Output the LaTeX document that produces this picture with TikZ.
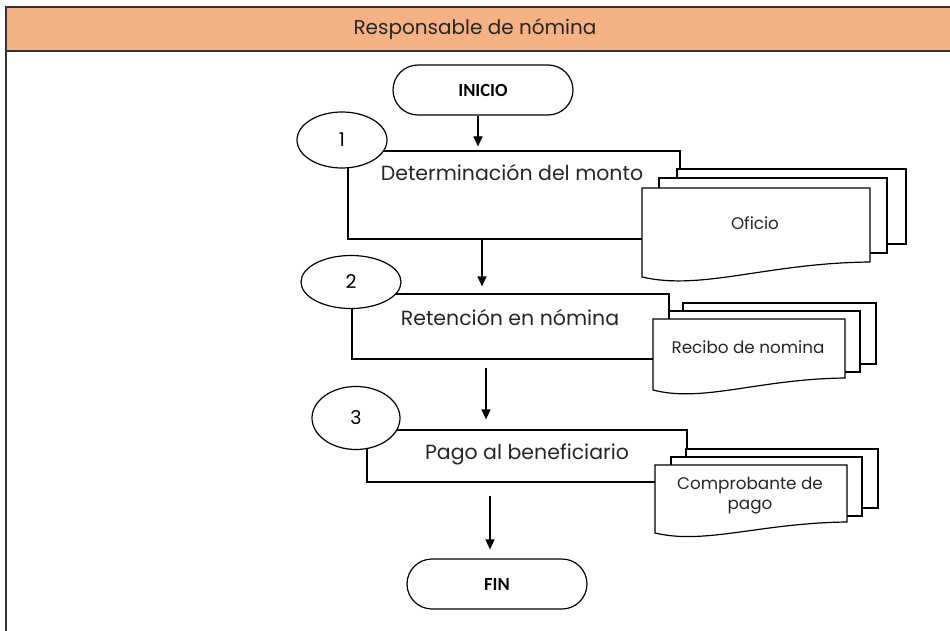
\documentclass[tikz,border=0pt]{standalone}
\usepackage{fontspec}
\setmainfont{Poppins}
\newfontfamily\termfont{Carlito}
\usepackage{xcolor}
\usepackage{tikz}
\usetikzlibrary{arrows.meta,positioning,calc,shapes.geometric}

\definecolor{headorange}{HTML}{F4B183}

\begin{document}
\begin{tikzpicture}[
    x=1pt, y=-1pt,
    term/.style={draw, line width=1.2pt, rounded corners=25pt, minimum width=180pt, minimum height=50pt, inner sep=0pt, font=\termfont\bfseries\fontsize{18.5}{20}\selectfont},
    proc/.style={draw, line width=1.2pt, inner sep=0pt},
    num/.style={draw, ellipse, line width=1.2pt, fill=white, inner sep=0pt, font=\fontsize{19}{21}\selectfont},
    steptext/.style={font=\fontsize{20.5}{22}\selectfont, text=black!85},
    doc/.style={draw, line width=1.2pt, fill=white},
    doctext/.style={font=\fontsize{16.8}{20}\selectfont, align=center, text=black!85},
    flow/.style={draw, line width=1.2pt, -{Triangle[length=10pt,width=9pt]}},
    >=Stealth
]
\useasboundingbox (0,0) rectangle (950,631);

% lane
\fill[headorange] (6,7) rectangle (952,51);
\draw[line width=2pt, black!80] (952,7) -- (6,7) -- (6,633);
\draw[line width=2pt, black!80] (6,51) -- (952,51);
\node[steptext, font=\fontsize{20}{22}\selectfont] (lane) at (475,29) {Responsable de nómina};

% steps
\node[term] (inicio) at (483,90) {INICIO};
\node[proc, minimum width=332pt, minimum height=88pt] (box1) at (514,195) {};
\node[proc, minimum width=317pt, minimum height=65pt] (box2) at (510.5,326.5) {};
\node[proc, minimum width=320pt, minimum height=52pt] (box3) at (527,456) {};
\node[term] (fin) at (497,584) {FIN};

\node[steptext] (t1) at (512,173) {Determinación del monto};
\node[steptext] (t2) at (510,318) {Retención en nómina};
\node[steptext] (t3) at (527,454) {Pago al beneficiario};

\node[num, minimum width=90pt, minimum height=56pt] (n1) at (342,140) {1};
\node[num, minimum width=100pt, minimum height=53pt] (n2) at (351,282) {2};
\node[num, minimum width=88pt, minimum height=63pt] (n3) at (356,418) {3};

% documents
\begin{scope}[shift={(642,188)}]
\draw[doc] (35,-19) rectangle (264,56);
\draw[doc] (17,-10) rectangle (245,65);
\draw[doc] (0,0) -- (228,0) -- (228,74) .. controls (125,75) and (60,103) .. (0,89) -- cycle;
\node[doctext] (d1) at (113,35) {Oficio};
\end{scope}

\begin{scope}[shift={(653,319)}]
\draw[doc] (30,-16) rectangle (223,45);
\draw[doc] (16,-8) rectangle (207,53);
\draw[doc] (0,0) -- (192,0) -- (192,59) .. controls (105,60) and (50,84) .. (0,71) -- cycle;
\node[doctext] (d2) at (95,28) {Recibo de nomina};
\end{scope}

\begin{scope}[shift={(655,465)}]
\draw[doc] (31,-16) rectangle (223,43);
\draw[doc] (16,-8) rectangle (207,51);
\draw[doc] (0,0) -- (192,0) -- (192,57) .. controls (105,58) and (50,80) .. (0,68) -- cycle;
\node[doctext] (d3) at (95,31) {Comprobante de\\pago};
\end{scope}

% flow
\draw[flow, shorten >=4pt] ([xshift=-5pt]inicio.south) -- ([xshift=-5pt]inicio.south |- box1.north);
\draw[flow, shorten >=7pt] ([xshift=-32pt]box1.south) -- ([xshift=-32pt]box1.south |- box2.north);
\draw[flow, shorten <=8pt, shorten >=10pt] ([xshift=-24.5pt]box2.south) -- ([xshift=-24.5pt]box2.south |- box3.north);
\draw[flow, shorten <=13pt, shorten >=9pt] ([xshift=-37pt]box3.south) -- ([xshift=-37pt]box3.south |- fin.north);

\end{tikzpicture}
\end{document}
